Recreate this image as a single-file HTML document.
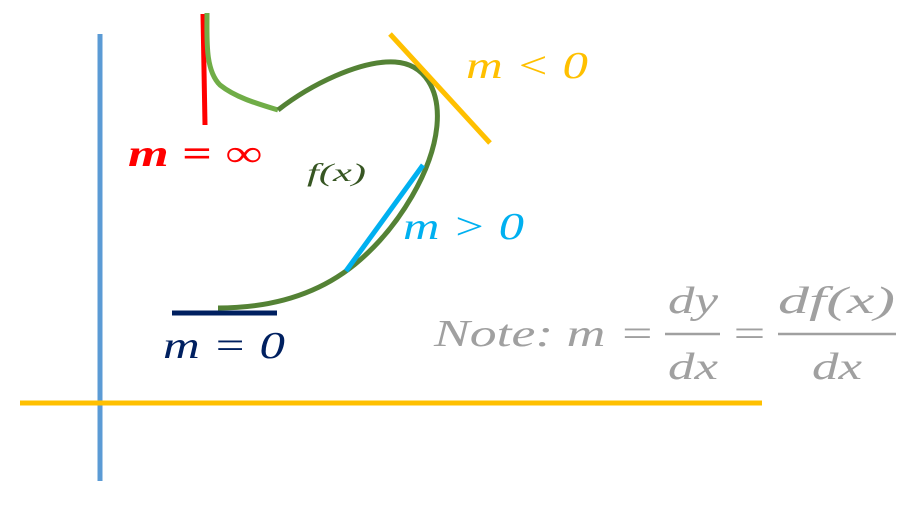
<!DOCTYPE html>
<html><head><meta charset="utf-8"><style>
html,body{margin:0;padding:0;background:#fff}
svg{display:block}
text{font-family:"Liberation Serif","DejaVu Serif",serif;font-style:italic}
</style></head><body>
<svg width="922" height="513" viewBox="0 0 922 513" xmlns="http://www.w3.org/2000/svg">
<line x1="100" y1="34" x2="100" y2="481" stroke="#5b9bd5" stroke-width="5"/>
<line x1="20" y1="403" x2="762" y2="403" stroke="#ffc000" stroke-width="5"/>
<line x1="203" y1="14" x2="205" y2="125" stroke="#ff0000" stroke-width="5"/>
<path d="M207,13 C207,40 205,70 220,85 C235,97 255,103 278,110" fill="none" stroke="#70ad47" stroke-width="5"/>
<path d="M278,110 C310,85 360,60 395,62 C425,64 440,90 437,125 C433,170 400,225 360,260 C320,295 270,308 218,308" fill="none" stroke="#548235" stroke-width="5"/>
<line x1="390" y1="34" x2="490" y2="143" stroke="#ffc000" stroke-width="5"/>
<line x1="423" y1="165" x2="346" y2="271" stroke="#00b0f0" stroke-width="5"/>
<line x1="172" y1="313" x2="277" y2="313" stroke="#002060" stroke-width="5"/>
<text x="128" y="166" font-size="38" font-weight="bold" fill="#ff0000" textLength="134" lengthAdjust="spacingAndGlyphs">m = ∞</text>
<text x="466" y="78" font-size="38" fill="#ffc000" textLength="122" lengthAdjust="spacingAndGlyphs">m &lt; 0</text>
<text x="403" y="239" font-size="38" fill="#00b0f0" textLength="121" lengthAdjust="spacingAndGlyphs">m &gt; 0</text>
<text x="163" y="358" font-size="38" fill="#002060" textLength="122" lengthAdjust="spacingAndGlyphs">m = 0</text>
<text x="307" y="181" font-size="25" fill="#375623" textLength="59" lengthAdjust="spacingAndGlyphs">f(x)</text>
<text x="434" y="346" font-size="38" fill="#a0a0a0" textLength="221" lengthAdjust="spacingAndGlyphs">Note: m =</text>
<text x="668" y="313" font-size="38" fill="#a0a0a0" textLength="50" lengthAdjust="spacingAndGlyphs">dy</text>
<line x1="665" y1="334" x2="720" y2="334" stroke="#a0a0a0" stroke-width="2.5"/>
<text x="668" y="379" font-size="38" fill="#a0a0a0" textLength="50" lengthAdjust="spacingAndGlyphs">dx</text>
<text x="730" y="346" font-size="38" fill="#a0a0a0" textLength="38" lengthAdjust="spacingAndGlyphs">=</text>
<text x="778" y="313" font-size="38" fill="#a0a0a0" textLength="117" lengthAdjust="spacingAndGlyphs">df(x)</text>
<line x1="778" y1="334" x2="896" y2="334" stroke="#a0a0a0" stroke-width="2.5"/>
<text x="812" y="379" font-size="38" fill="#a0a0a0" textLength="50" lengthAdjust="spacingAndGlyphs">dx</text>
</svg>
</body></html>
